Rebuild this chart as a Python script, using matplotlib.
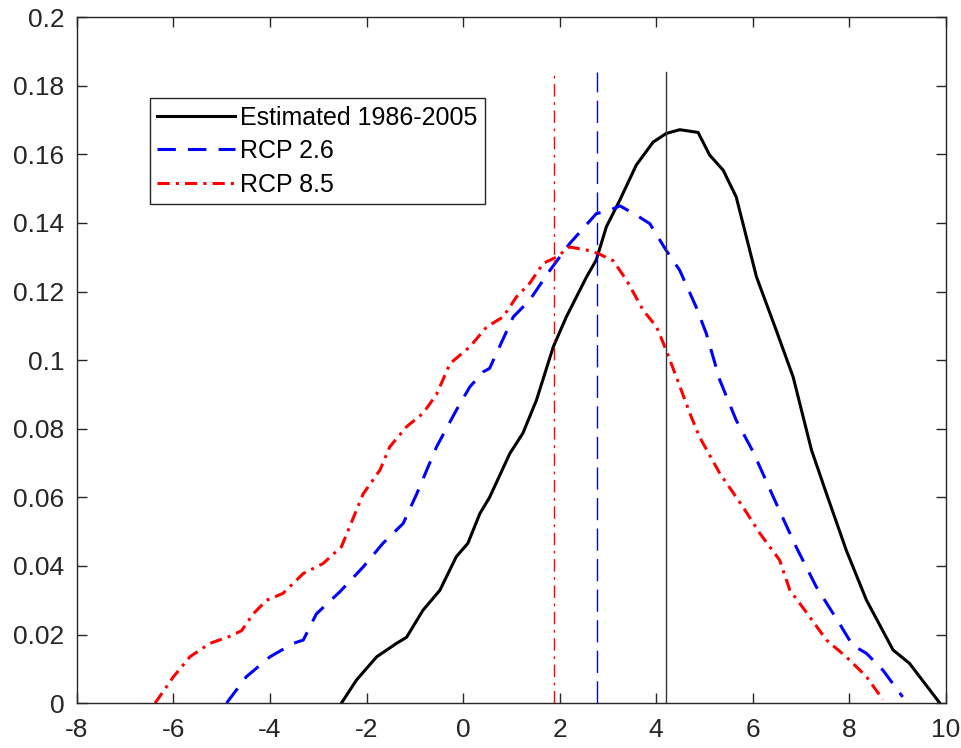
import matplotlib.pyplot as plt
import numpy as np

plt.rcParams['font.family'] = ['Liberation Sans', 'DejaVu Sans']

# estimated 1986-2005
x_est = [-2.52, -2.21, -1.79, -1.38, -1.17, -0.83, -0.48, -0.14, 0.10, 0.35, 0.55, 0.97,
         1.24, 1.52, 1.87, 2.14, 2.56, 2.76, 2.97, 3.25, 3.59, 3.94, 4.21, 4.49, 4.87,
         5.11, 5.39, 5.66, 6.08, 6.49, 6.84, 7.22, 7.53, 7.94, 8.36, 8.91, 9.25, 9.88]
y_est = [0.0, 0.0067, 0.0135, 0.0174, 0.0192, 0.0271, 0.0329, 0.0427, 0.0466, 0.0553,
         0.060, 0.0728, 0.0787, 0.0883, 0.1039, 0.1126, 0.1243, 0.1292, 0.1389, 0.1467,
         0.1569, 0.1636, 0.1661, 0.1672, 0.1664, 0.1598, 0.1554, 0.1476, 0.1243, 0.1087,
         0.0951, 0.0738, 0.0611, 0.0446, 0.030, 0.0155, 0.0116, 0.0]

# RCP 2.6
x_26 = [-4.90, -4.49, -4.0, -3.52, -3.31, -3.04, -2.55, -2.07, -1.66, -1.24, -0.96, -0.55,
        -0.14, 0.14, 0.42, 0.55, 1.04, 1.38, 1.80, 2.21, 2.76, 3.04, 3.25, 3.59, 3.87,
        4.21, 4.49, 4.83, 5.04, 5.32, 5.66, 6.01, 6.49, 6.90, 7.32, 7.80, 8.07, 8.36,
        8.70, 9.11]
y_26 = [0.0, 0.0077, 0.0135, 0.0174, 0.0184, 0.026, 0.0325, 0.0397, 0.0466, 0.0524, 0.061,
        0.0747, 0.0854, 0.0922, 0.0966, 0.0976, 0.1126, 0.1175, 0.1262, 0.134, 0.1427,
        0.1437, 0.1450, 0.1423, 0.1398, 0.132, 0.1262, 0.1155, 0.1078, 0.0942, 0.0825,
        0.0733, 0.0582, 0.0456, 0.0339, 0.0232, 0.0169, 0.0145, 0.0096, 0.0018]

# RCP 8.5
x_85 = [-6.38, -6.0, -5.66, -5.25, -4.83, -4.59, -4.35, -4.07, -3.73, -3.31, -2.90, -2.52,
        -2.35, -2.07, -1.72, -1.52, -1.17, -0.83, -0.55, -0.27, 0.14, 0.49, 0.83, 1.11,
        1.38, 1.66, 1.94, 2.21, 2.56, 2.80, 3.11, 3.39, 3.73, 4.01, 4.21, 4.42, 4.70,
        4.90, 5.32, 5.80, 6.15, 6.56, 6.77, 7.18, 7.53, 7.94, 8.36, 8.70]
y_85 = [0.0, 0.0077, 0.0135, 0.0174, 0.0195, 0.0211, 0.026, 0.030, 0.032, 0.0378, 0.0407,
        0.0456, 0.0514, 0.061, 0.068, 0.0747, 0.0806, 0.0845, 0.0900, 0.099, 0.1039,
        0.1097, 0.1126, 0.1185, 0.1224, 0.1282, 0.1301, 0.1330, 0.1321, 0.1311, 0.129,
        0.1233, 0.1146, 0.1097, 0.1029, 0.0951, 0.0845, 0.0776, 0.067, 0.0572, 0.0495,
        0.0417, 0.033, 0.0252, 0.0184, 0.0135, 0.0077, 0.001]

# means (vertical lines)
mean_est = 4.2
mean_26 = 2.78
mean_85 = 1.88
vline_top = 0.184

labels = ['Estimated 1986-2005', 'RCP 2.6', 'RCP 8.5']

fig = plt.figure(figsize=(9.62, 7.48), dpi=100)
ax = fig.add_axes([0.080, 0.060, 0.903, 0.917])

ax.plot(x_est, y_est, color='black', lw=2.2, label=labels[0])
ax.plot(x_26, y_26, color='blue', lw=2.2, dashes=(6, 4), label=labels[1])
ax.plot(x_85, y_85, color='red', lw=2.2, dashes=(4, 2, 1, 2), label=labels[2])

ax.plot([mean_est, mean_est], [0, vline_top], color='#333333', lw=1.0)
ax.plot([mean_26, mean_26], [0, vline_top], color='blue', lw=1.0, dashes=(16, 6))
ax.plot([mean_85, mean_85], [0, vline_top], color='red', lw=1.0, dashes=(9, 4, 2, 4))

ax.set_xlim(-8, 10)
ax.set_ylim(0, 0.2)
ax.set_xticks(np.arange(-8, 11, 2))
ax.set_yticks(np.arange(0, 0.201, 0.02))
ax.set_yticklabels(['0', '0.02', '0.04', '0.06', '0.08', '0.1', '0.12', '0.14',
                    '0.16', '0.18', '0.2'])
ax.set_xticklabels([str(v) for v in range(-8, 11, 2)])

ax.tick_params(direction='in', length=7, width=1, top=True, right=True,
               labelsize=19, colors='#262626')
ax.tick_params(axis='y', pad=9)
ax.tick_params(axis='x', pad=11)
for s in ax.spines.values():
    s.set_color('#262626')
    s.set_linewidth(1)

leg = ax.legend(loc='upper left', bbox_to_anchor=(0.084, 0.882), fontsize=18,
                fancybox=False, edgecolor='#262626', framealpha=1, handlelength=3.1,
                borderpad=0.3, labelspacing=0.38, handletextpad=0.2,
                borderaxespad=0)
leg.get_frame().set_linewidth(1)

fig.savefig('out.png', dpi=100)
